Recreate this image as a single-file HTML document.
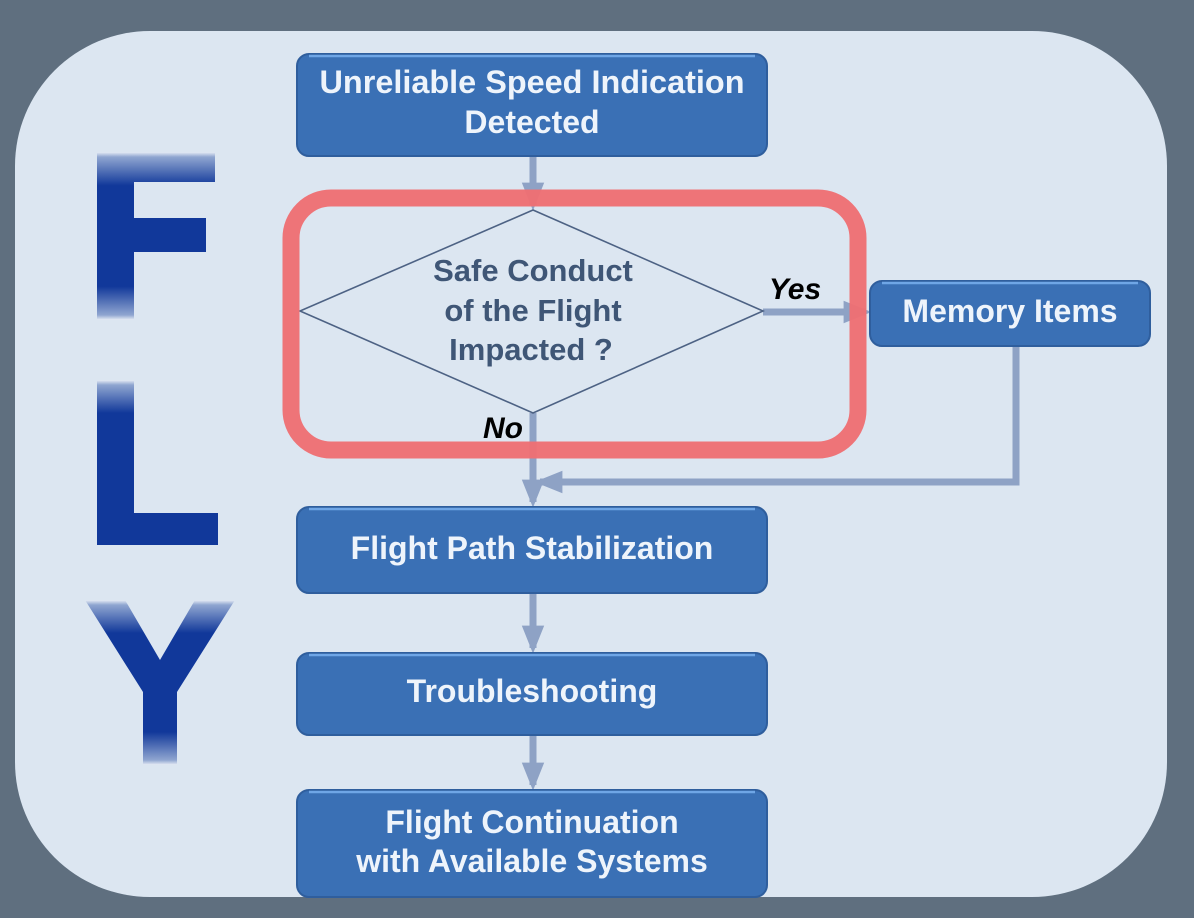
<!DOCTYPE html>
<html><head><style>html,body{margin:0;padding:0;background:#5f6f7f;}svg{display:block}</style></head>
<body>
<svg width="1194" height="918" viewBox="0 0 1194 918" xmlns="http://www.w3.org/2000/svg" font-family="Liberation Sans, Arial, sans-serif">
<defs>
<linearGradient id="gF" gradientUnits="userSpaceOnUse" x1="0" y1="152" x2="0" y2="320">
<stop offset="0" stop-color="#e6ecf5"/><stop offset="0.03" stop-color="#8fa5d0"/><stop offset="0.2" stop-color="#11389a"/><stop offset="0.8" stop-color="#11389a"/><stop offset="0.97" stop-color="#8fa5d0"/><stop offset="1" stop-color="#e6ecf5"/>
</linearGradient>
<linearGradient id="gL" gradientUnits="userSpaceOnUse" x1="0" y1="380" x2="0" y2="545">
<stop offset="0" stop-color="#e6ecf5"/><stop offset="0.03" stop-color="#8fa5d0"/><stop offset="0.2" stop-color="#11389a"/><stop offset="1" stop-color="#11389a"/>
</linearGradient>
<linearGradient id="gY" gradientUnits="userSpaceOnUse" x1="0" y1="600" x2="0" y2="765">
<stop offset="0" stop-color="#e6ecf5"/><stop offset="0.03" stop-color="#8fa5d0"/><stop offset="0.2" stop-color="#11389a"/><stop offset="0.8" stop-color="#11389a"/><stop offset="0.97" stop-color="#8fa5d0"/><stop offset="1" stop-color="#e6ecf5"/>
</linearGradient>
<marker id="ah" markerWidth="4" markerHeight="4" refX="3.2" refY="2" orient="auto" markerUnits="strokeWidth"><path d="M0,0.4 L4,2 L0,3.6 Z" fill="#8ea2c5"/></marker>
</defs>
<rect x="0" y="0" width="1194" height="918" fill="#5f6f7f"/>
<rect x="15" y="31" width="1152" height="866" rx="135" fill="#dce6f1"/>
<!-- FLY -->
<path d="M97,152 H215 V182 H134 V218 H206 V252 H134 V320 H97 Z" fill="url(#gF)"/>
<path d="M97,380 H134 V513 H218 V545 H97 Z" fill="url(#gL)"/>
<polygon points="85,600 125,600 160,660 195,600 235,600 177,692 177,765 143,765 143,692" fill="url(#gY)"/>
<!-- connectors -->
<g stroke="#8ea2c5" stroke-width="7" fill="none">
<line x1="533" y1="156" x2="533" y2="205" marker-end="url(#ah)"/>
<line x1="763" y1="312" x2="866" y2="312" marker-end="url(#ah)"/>
<line x1="533" y1="413" x2="533" y2="502" marker-end="url(#ah)"/>
<polyline points="1016,346 1016,482 540,482" marker-end="url(#ah)"/>
<line x1="533" y1="593" x2="533" y2="648" marker-end="url(#ah)"/>
<line x1="533" y1="735" x2="533" y2="785" marker-end="url(#ah)"/>
</g>
<!-- diamond -->
<polygon points="533,210 763,311 533,413 300,311" fill="none" stroke="#4d6284" stroke-width="1.6"/>
<g font-weight="bold" font-size="31" fill="#3f5676" text-anchor="middle">
<text x="533" y="281">Safe Conduct</text>
<text x="533" y="321">of the Flight</text>
<text x="531" y="360">Impacted ?</text>
</g>
<text x="795" y="299" font-weight="bold" font-style="italic" font-size="30" fill="#000" text-anchor="middle">Yes</text>
<text x="503" y="438" font-weight="bold" font-style="italic" font-size="30" fill="#000" text-anchor="middle">No</text>
<!-- red highlight -->
<rect x="291" y="198" width="567" height="252" rx="40" fill="none" stroke="#ee6f74" stroke-width="17" opacity="0.97"/>
<!-- boxes -->
<g fill="#3a70b5" stroke="#2f5e9d" stroke-width="2">
<rect x="297" y="54" width="470" height="102" rx="12"/>
<rect x="870" y="281" width="280" height="65" rx="12"/>
<rect x="297" y="507" width="470" height="86" rx="12"/>
<rect x="297" y="653" width="470" height="82" rx="12"/>
<rect x="297" y="790" width="470" height="107" rx="12"/>
</g>
<g stroke="#6fa6e6" stroke-width="2.5" fill="none">
<line x1="309" y1="56" x2="755" y2="56"/>
<line x1="882" y1="283" x2="1138" y2="283"/>
<line x1="309" y1="509" x2="755" y2="509"/>
<line x1="309" y1="655" x2="755" y2="655"/>
<line x1="309" y1="792" x2="755" y2="792"/>
</g>
<g font-weight="bold" font-size="32" fill="#eef4fb" text-anchor="middle">
<text x="532" y="93" textLength="425" lengthAdjust="spacingAndGlyphs">Unreliable Speed Indication</text>
<text x="532" y="133">Detected</text>
<text x="1010" y="322">Memory Items</text>
<text x="532" y="559">Flight Path Stabilization</text>
<text x="532" y="702">Troubleshooting</text>
<text x="532" y="833">Flight Continuation</text>
<text x="532" y="872">with Available Systems</text>
</g>
</svg>
</body></html>
